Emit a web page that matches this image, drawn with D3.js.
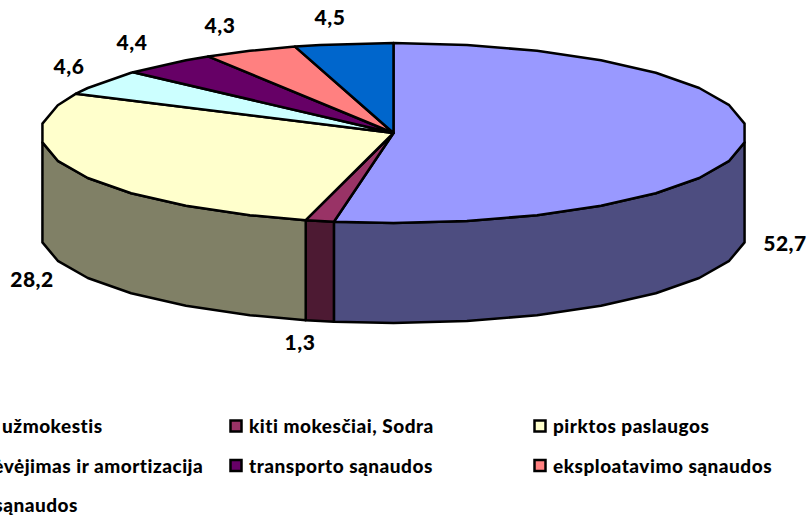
<!DOCTYPE html>
<html>
<head>
<meta charset="utf-8">
<script src="https://d3js.org/d3.v7.min.js"></script>
<style>
  html, body { margin: 0; padding: 0; background: #fff; }
  svg { display: block; }
  text { font-family: Lato, "Open Sans", sans-serif; font-weight: 900; fill: #000; }
</style>
</head>
<body>
<div id="chart"></div>
<script>
const categories = ['darbo užmokestis', 'kiti mokesčiai, Sodra', 'pirktos paslaugos', 'nusidėvėjimas ir amortizacija', 'transporto sąnaudos', 'eksploatavimo sąnaudos', 'kitos sąnaudos'];
const values = [52.7, 1.3, 28.2, 4.6, 4.4, 4.3, 4.5];
const valueLabels = ['52,7', '1,3', '28,2', '4,6', '4,4', '4,3', '4,5'];
const colors = ['#9999FF', '#993366', '#FFFFCC', '#CCFFFF', '#660066', '#FF8080', '#0066CC'];
const sideColors = ['#4D4D80', '#4D1A33', '#808066', '#668080', '#330033', '#804040', '#003366'];

const width = 808, height = 515;
const cx = 393.5, cy = 133, rx = 353, ry = 90, depth = 100;
const step = 12; // the original outline is a coarse polygon

// where the value labels sit (centre x, baseline y)
const labelX = [785, 300, 32, 69, 132, 220, 330];
const labelY = [251, 350, 287, 74, 50, 33, 25];

const svg = d3.select('#chart').append('svg').attr('width', width).attr('height', height);

const xScale = d3.scaleLinear().domain([-1, 1]).range([cx - rx, cx + rx]);
const yScale = d3.scaleLinear().domain([-1, 1]).range([cy - ry, cy + ry]);
const rad = (deg) => deg * Math.PI / 180;
const rim = (deg, drop = 0) => [xScale(Math.sin(rad(deg))), yScale(-Math.cos(rad(deg))) + drop];

// angles along the rim, broken at every polygon step
const rimAngles = (a0, a1) => {
  const inner = d3.range(Math.ceil(a0 / step + 1e-6) * step, a1 - 1e-6, step);
  return [a0, ...inner, a1];
};

const pie = d3.pie().sort(null).value((d) => d).startAngle(0).endAngle(2 * Math.PI);
const slices = pie(values).map((d) => ({
  i: d.index,
  a0: d.startAngle * 180 / Math.PI,
  a1: d.endAngle * 180 / Math.PI
}));

const line = d3.line();

// front wall, only what faces the viewer
const sideFrom = 96, sideTo = 264;
svg.append('g').selectAll('path')
  .data(slices.filter((s) => s.a1 > sideFrom && s.a0 < sideTo))
  .join('path')
  .attr('d', (s) => {
    const angles = rimAngles(Math.max(s.a0, sideFrom), Math.min(s.a1, sideTo));
    const upper = angles.map((a) => rim(a));
    const lower = angles.slice().reverse().map((a) => rim(a, depth));
    return line([...upper, ...lower]) + 'Z';
  })
  .attr('fill', (s) => sideColors[s.i])
  .attr('stroke', '#000')
  .attr('stroke-width', 2.5)
  .attr('stroke-linejoin', 'round');

// top face
svg.append('g').selectAll('path')
  .data(slices)
  .join('path')
  .attr('d', (s) => {
    const pts = rimAngles(s.a0, s.a1).map((a) => rim(a));
    return line([[xScale(0), yScale(0)], ...pts]) + 'Z';
  })
  .attr('fill', (s) => colors[s.i])
  .attr('stroke', '#000')
  .attr('stroke-width', 2.5)
  .attr('stroke-linejoin', 'round');

// value labels
svg.append('g').selectAll('text')
  .data(valueLabels)
  .join('text')
  .attr('x', (d, i) => labelX[i])
  .attr('y', (d, i) => labelY[i])
  .attr('text-anchor', 'middle')
  .style('font-size', '21px')
  .style('letter-spacing', '0.5px')
  .text((d) => d);

// legend, three columns, first one runs off the left edge
const legendX = d3.scaleLinear().domain([0, 1]).range([-75, 229]);
const legendY = d3.scaleLinear().domain([0, 1]).range([433, 472.5]);
const legend = svg.append('g').selectAll('g')
  .data(categories)
  .join('g')
  .attr('transform', (d, i) => `translate(${legendX(i % 3)},${legendY(Math.floor(i / 3))})`);

legend.append('rect')
  .attr('x', 1.5).attr('y', -12.5)
  .attr('width', 11).attr('height', 11)
  .attr('fill', (d, i) => colors[i])
  .attr('stroke', '#000')
  .attr('stroke-width', 2.5);

legend.append('text')
  .attr('x', 20)
  .style('font-size', '19px')
  .style('letter-spacing', '0.5px')
  .text((d) => d);
</script>
</body>
</html>
